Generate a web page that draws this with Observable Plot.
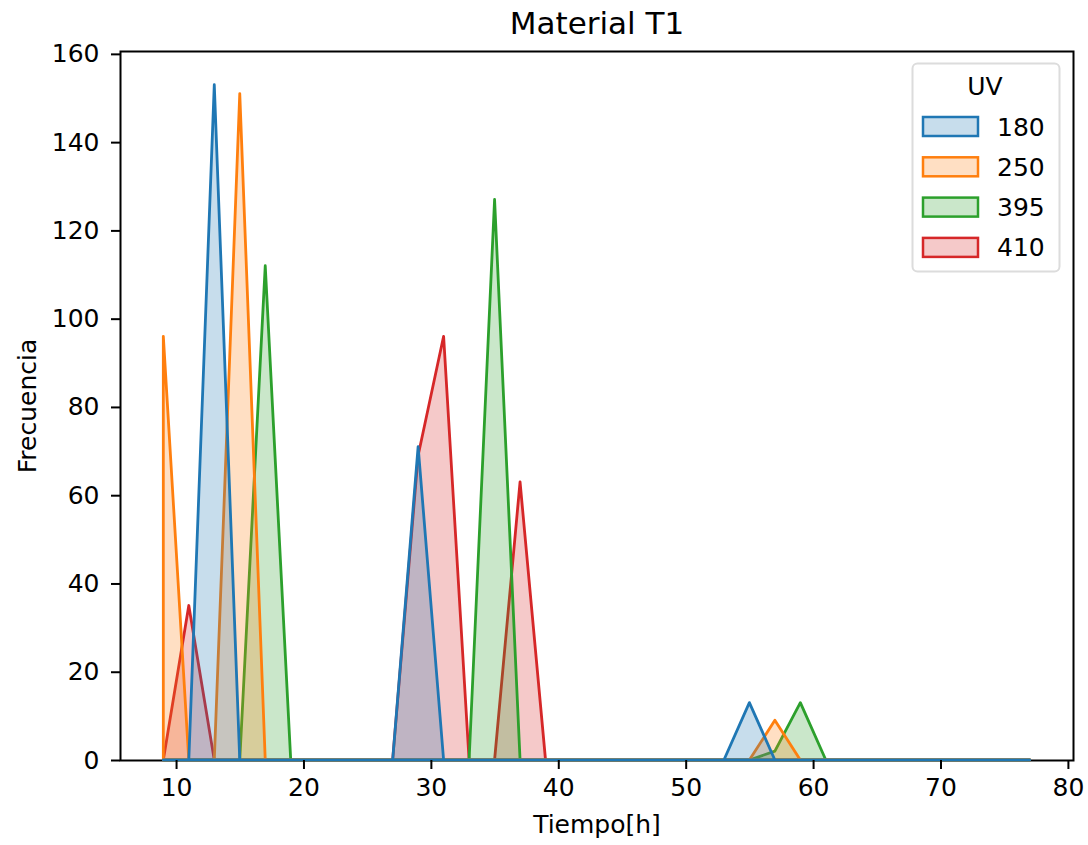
<!DOCTYPE html>
<html>
<head>
<meta charset="utf-8">
<script src="https://cdn.jsdelivr.net/npm/d3@7"></script>
<script src="https://cdn.jsdelivr.net/npm/@observablehq/plot@0.6"></script>
<style>
  body { margin: 0; background: #fff; }
  #chart { position: relative; width: 1088px; height: 845px; font-family: "DejaVu Sans", sans-serif; }
  #legend { position: absolute; left: 0; top: 0; pointer-events: none; }
</style>
</head>
<body>
<div id="chart"></div>
<script>
// Bin centres (hours), bins of width 2 h
const tiempo = [9, 11, 13, 15, 17, 19, 21, 23, 25, 27, 29, 31, 33, 35, 37, 39, 41, 43, 45, 47, 49, 51, 53, 55, 57, 59, 61, 63, 65, 67, 69, 71, 73, 75, 77];

// Counts per bin for each UV level
const uv180 = [0, 0, 153, 0, 0, 0, 0, 0, 0, 0, 71, 0, 0, 0, 0, 0, 0, 0, 0, 0, 0, 0, 0, 13, 0, 0, 0, 0, 0, 0, 0, 0, 0, 0, 0];
const uv250 = [96, 0, 0, 151, 0, 0, 0, 0, 0, 0, 0, 0, 0, 0, 0, 0, 0, 0, 0, 0, 0, 0, 0, 0, 9, 0, 0, 0, 0, 0, 0, 0, 0, 0, 0];
const uv395 = [0, 0, 0, 0, 112, 0, 0, 0, 0, 0, 0, 0, 0, 127, 0, 0, 0, 0, 0, 0, 0, 0, 0, 0, 2, 13, 0, 0, 0, 0, 0, 0, 0, 0, 0];
const uv410 = [0, 35, 0, 0, 0, 0, 0, 0, 0, 0, 69, 96, 0, 0, 63, 0, 0, 0, 0, 0, 0, 0, 0, 0, 0, 0, 0, 0, 0, 0, 0, 0, 0, 0, 0];

const niveles = ["180", "250", "395", "410"];
const colores = ["#1f77b4", "#ff7f0e", "#2ca02c", "#d62728"];
const xTicks = [10, 20, 30, 40, 50, 60, 70, 80];
const yTicks = [0, 20, 40, 60, 80, 100, 120, 140, 160];

const conteos = { "180": uv180, "250": uv250, "395": uv395, "410": uv410 };
const filas = Object.fromEntries(niveles.map(uv => [
  uv, tiempo.map((t, i) => ({ tiempo: t, frecuencia: conteos[uv][i], uv }))
]));

const W = 1088, H = 845;
const font = "DejaVu Sans, sans-serif";

// Polygons: last level drawn first so UV 180 sits on top
const poligonos = [...niveles].reverse().map(uv =>
  Plot.areaY(filas[uv], {
    x: "tiempo", y: "frecuencia",
    fill: "uv", stroke: "uv",
    fillOpacity: 0.25, strokeWidth: 2.8
  })
);

const chart = Plot.plot({
  width: W,
  height: H,
  marginLeft: 120,
  marginRight: 15,
  marginTop: 51,
  marginBottom: 85,
  style: { fontFamily: font, background: "#fff", color: "#000" },
  x: { domain: [5.6, 80.4] },
  y: { domain: [0, 160.65] },
  color: { domain: niveles, range: colores },
  marks: [
    Plot.frame({ stroke: "#000", strokeWidth: 2 }),
    ...poligonos,
    Plot.axisX({ ticks: xTicks, tickSize: 9, tickPadding: 9, fontSize: 25, strokeWidth: 2, label: null }),
    Plot.axisY({ ticks: yTicks, tickSize: 9, tickPadding: 12, fontSize: 25, strokeWidth: 2, label: null }),
    Plot.text(["Material T1"], { frameAnchor: "top", lineAnchor: "middle", dy: -27.6, fontSize: 31 }),
    Plot.text(["Tiempo[h]"], { frameAnchor: "bottom", lineAnchor: "bottom", dy: 72, fontSize: 25 }),
    Plot.text(["Frecuencia"], { frameAnchor: "left", textAnchor: "middle", lineAnchor: "bottom", rotate: -90, dx: -85, fontSize: 25 })
  ]
});

const host = document.getElementById("chart");
host.appendChild(chart);

// Legend box in the upper-right corner of the axes
const leg = d3.select(host).append("svg")
  .attr("id", "legend")
  .attr("width", W).attr("height", H)
  .style("font-family", font);

leg.append("rect")
  .attr("x", 912.5).attr("y", 63.5).attr("width", 147).attr("height", 208)
  .attr("rx", 5).attr("ry", 5)
  .attr("fill", "rgba(255,255,255,0.8)")
  .attr("stroke", "#dcdcdc").attr("stroke-width", 2);

leg.append("text")
  .attr("x", 985).attr("y", 95)
  .attr("text-anchor", "middle")
  .attr("font-size", 25)
  .text("UV");

niveles.forEach((uv, i) => {
  const cy = 126.5 + i * 40.3;
  leg.append("rect")
    .attr("x", 923).attr("y", cy - 9.5).attr("width", 55).attr("height", 19)
    .attr("fill", colores[i]).attr("fill-opacity", 0.25)
    .attr("stroke", colores[i]).attr("stroke-width", 2.5);
  leg.append("text")
    .attr("x", 997).attr("y", cy + 9)
    .attr("font-size", 25)
    .text(uv);
});
</script>
</body>
</html>
